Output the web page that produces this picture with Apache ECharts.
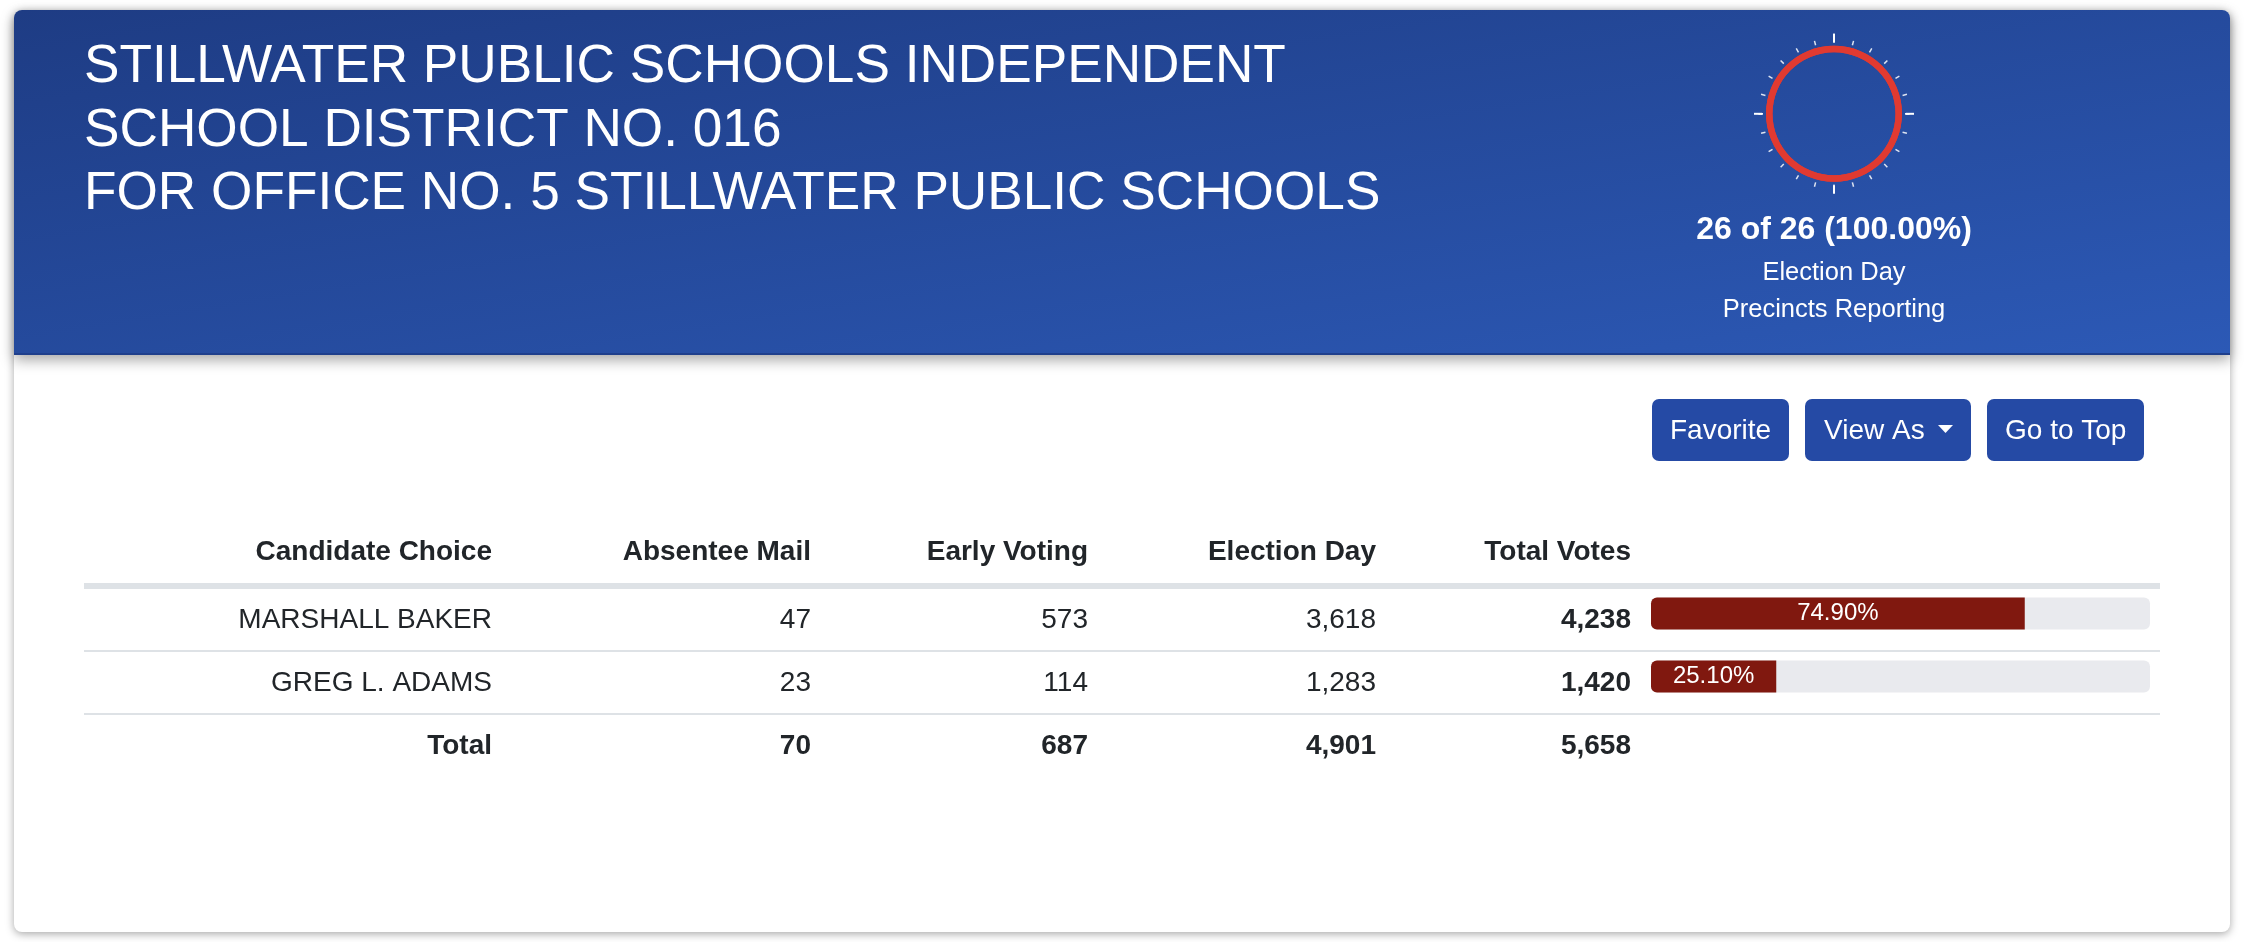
<!DOCTYPE html>
<html>

	<head>
		<meta charset="UTF-8">
		<title>Stillwater Public Schools</title>
		<style>
			* {
				margin: 0;
				padding: 0;
			}

			body {
				background: #fff;
			}

			#main {
				width: 2244px;
				height: 942px;
			}
		</style>
		<script type="text/javascript" src="https://cdn.jsdelivr.net/npm/echarts@6/dist/echarts.min.js"></script>
	</head>

	<body>
		<div id="main"></div>
		<script>
			var titleLines = ['STILLWATER PUBLIC SCHOOLS INDEPENDENT', 'SCHOOL DISTRICT NO. 016', 'FOR OFFICE NO. 5 STILLWATER PUBLIC SCHOOLS'];
			var columnNames = ['Candidate Choice', 'Absentee Mail', 'Early Voting', 'Election Day', 'Total Votes'];
			var candidates = ['MARSHALL BAKER', 'GREG L. ADAMS'];
			var absenteeMail = [47, 23];
			var earlyVoting = [573, 114];
			var electionDay = [3618, 1283];
			var totalVotes = [4238, 1420];
			var votePercent = [74.90, 25.10];
			var totalRow = ['Total', 70, 687, 4901, 5658];
			var precinctsIn = 26;
			var precinctsAll = 26;
			var buttonNames = ['Favorite', 'View As', 'Go to Top'];

			var font = '"Liberation Sans", Arial, sans-serif';
			var ink = '#212529';
			var columnRight = [492, 811, 1088, 1376, 1631];
			var tableLeft = 84, tableRight = 2160;
			var baseShift = 0.32; // alphabetic baseline -> middle of the line

			function fmt(v) {
				return typeof v === 'number' ? v.toLocaleString('en-US') : v;
			}

			// text placed by its baseline
			function label(str, x, base, size, align, weight, color) {
				return {
					type: 'text',
					style: {
						text: str,
						x: x,
						y: base - size * baseShift,
						fill: color || ink,
						font: (weight || 'normal') + ' ' + size + 'px ' + font,
						textAlign: align || 'right',
						textVerticalAlign: 'middle'
					}
				};
			}

			function rule(y, h) {
				return {
					type: 'rect',
					shape: { x: tableLeft, y: y, width: tableRight - tableLeft, height: h },
					style: { fill: '#dee2e6' }
				};
			}

			function button(x, w) {
				return {
					type: 'rect',
					shape: { x: x, y: 399, width: w, height: 62, r: 7 },
					style: { fill: '#254aa5' }
				};
			}

			// corner to corner like a css "to bottom right" gradient
			function headerFill(x, y, w, h) {
				var cx = x + w / 2, cy = y + h / 2;
				var len = Math.sqrt(w * w + h * h);
				var half = w * h / len;
				var ux = h / len, uy = w / len;
				return new echarts.graphic.LinearGradient(cx - half * ux, cy - half * uy, cx + half * ux, cy + half * uy, [
					{ offset: 0, color: '#1e3c84' },
					{ offset: 1, color: '#2c59b6' }
				], true);
			}

			var items = [
				// card
				{
					type: 'rect',
					shape: { x: 14, y: 10, width: 2216, height: 922, r: 8 },
					style: { fill: '#fff', shadowBlur: 8, shadowOffsetY: 2, shadowColor: 'rgba(0,0,0,0.35)' }
				},
				// header band
				{
					type: 'rect',
					shape: { x: 14, y: 10, width: 2216, height: 345, r: [8, 8, 0, 0] },
					style: {
						fill: headerFill(14, 10, 2216, 345),
						shadowBlur: 14,
						shadowOffsetY: 5,
						shadowColor: 'rgba(0,0,0,0.35)'
					}
				},
				{
					type: 'rect',
					shape: { x: 14, y: 353, width: 2216, height: 2 },
					style: { fill: '#1f3f8c' }
				},
				button(1652, 137),
				button(1805, 166),
				button(1987, 157),
				{
					type: 'polygon',
					shape: { points: [[1938, 425], [1953, 425], [1945.5, 433]] },
					style: { fill: '#fff' }
				},
				label(buttonNames[0], 1670, 440, 28, 'left', 'normal', '#fff'),
				label(buttonNames[1], 1824, 440, 28, 'left', 'normal', '#fff'),
				label(buttonNames[2], 2005, 440, 28, 'left', 'normal', '#fff'),
				label(precinctsIn + ' of ' + precinctsAll + ' (' + (precinctsIn / precinctsAll * 100).toFixed(2) + '%)', 1834, 240.5, 32, 'center', 'bold', '#fff'),
				label('Election Day', 1834, 281.5, 25.5, 'center', 'normal', '#fff'),
				label('Precincts Reporting', 1834, 318.5, 25.5, 'center', 'normal', '#fff'),
				rule(583, 6),
				rule(650, 2),
				rule(713, 2)
			];

			columnNames.forEach(function (name, i) {
				items.push(label(name, columnRight[i], 561.7, 28, 'right', 'bold'));
				items.push(label(fmt(totalRow[i]), columnRight[i], 755, 28, 'right', 'bold'));
			});
			candidates.forEach(function (name, r) {
				var base = 629 + r * 63;
				items.push(label(name, columnRight[0], base, 28));
				items.push(label(fmt(absenteeMail[r]), columnRight[1], base, 28));
				items.push(label(fmt(earlyVoting[r]), columnRight[2], base, 28));
				items.push(label(fmt(electionDay[r]), columnRight[3], base, 28));
				items.push(label(fmt(totalVotes[r]), columnRight[4], base, 28, 'right', 'bold'));
			});

			var myChart = echarts.init(document.getElementById('main'), null, { renderer: 'canvas' });
			var option = {
				animation: false,
				title: {
					text: titleLines.join('\n'),
					left: 84,
					top: 36,
					padding: 0,
					textStyle: {
						color: '#fff',
						fontFamily: font,
						fontWeight: 'normal',
						fontSize: 53.2,
						lineHeight: 63.5
					}
				},
				graphic: { elements: items },
				grid: { left: 1651, top: 582, width: 499, height: 126 },
				xAxis: { type: 'value', min: 0, max: 100, show: false },
				yAxis: { type: 'category', data: candidates, inverse: true, show: false },
				series: [
					{
						type: 'bar',
						data: votePercent,
						barWidth: 32,
						showBackground: true,
						backgroundStyle: { color: '#e9eaee', borderRadius: 6 },
						itemStyle: { color: '#80180f', borderRadius: [6, 0, 0, 6] },
						label: {
							show: true,
							position: 'inside',
							color: '#fff',
							fontFamily: font,
							fontSize: 24,
							formatter: function (p) {
								return p.value.toFixed(2) + '%';
							}
						}
					},
					{
						type: 'gauge',
						center: [1834, 113.8],
						radius: 68,
						startAngle: 90,
						endAngle: -270,
						min: 0,
						max: precinctsAll,
						splitNumber: 4,
						data: [{ value: precinctsIn }],
						progress: { show: true, width: 6.5, itemStyle: { color: '#e03a31' } },
						axisLine: { lineStyle: { width: 6.5, color: [[1, '#e03a31']] } },
						pointer: { show: false },
						anchor: { show: false },
						title: { show: false },
						detail: { show: false },
						axisLabel: { show: false },
						splitLine: { distance: -18.5, length: 8, lineStyle: { color: '#fff', width: 2 } },
						axisTick: { splitNumber: 6, distance: -14, length: 4.5, lineStyle: { color: 'rgba(255,255,255,0.85)', width: 1.5 } }
					}
				]
			};

			myChart.setOption(option);
		</script>
	</body>

</html>
